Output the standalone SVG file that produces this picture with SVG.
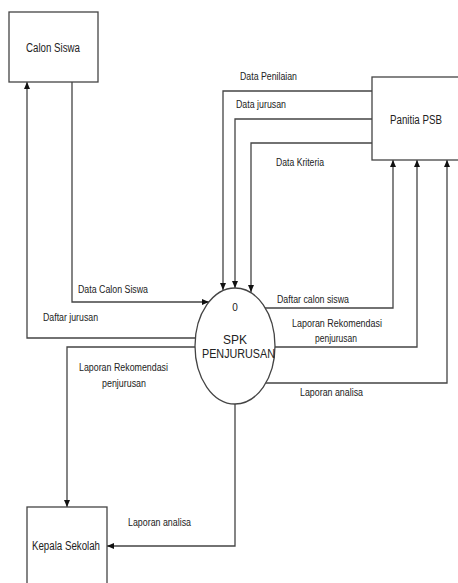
<svg xmlns="http://www.w3.org/2000/svg" width="458" height="583" viewBox="0 0 458 583">
<style>
.box{fill:#fff;stroke:#444;stroke-width:1.3}
.ln{fill:none;stroke:#444;stroke-width:1.3}
text{font-family:"Liberation Sans",Arial,sans-serif;fill:#222}
.lb{font-size:10px}
.nm{font-size:12px}
</style>
<defs>
<marker id="ah" markerUnits="userSpaceOnUse" markerWidth="8" markerHeight="8" refX="7" refY="4" orient="auto">
<path d="M0,1 L7,4 L0,7 Z" fill="#111"/>
</marker>
</defs>
<rect width="458" height="583" fill="#fff"/>
<g id="connectors">
<path class="ln" d="M72,82 V302 H209" marker-end="url(#ah)"/>
<path class="ln" d="M195,338 H27 V82" marker-end="url(#ah)"/>
<path class="ln" d="M372,91 H223 V290" marker-end="url(#ah)"/>
<path class="ln" d="M372,119 H235 V288" marker-end="url(#ah)"/>
<path class="ln" d="M372,143 H251 V292" marker-end="url(#ah)"/>
<path class="ln" d="M265,308 H393 V160" marker-end="url(#ah)"/>
<path class="ln" d="M275,347 H417 V160" marker-end="url(#ah)"/>
<path class="ln" d="M266,383 H447 V160" marker-end="url(#ah)"/>
<path class="ln" d="M195,347 H67 V507" marker-end="url(#ah)"/>
<path class="ln" d="M235,404 V546 H107" marker-end="url(#ah)"/>
<text class="lb" x="78" y="293" textLength="70" lengthAdjust="spacingAndGlyphs">Data Calon Siswa</text>
<text class="lb" x="43" y="321" textLength="55" lengthAdjust="spacingAndGlyphs">Daftar jurusan</text>
<text class="lb" x="240" y="80" textLength="57" lengthAdjust="spacingAndGlyphs">Data Penilaian</text>
<text class="lb" x="236" y="108" textLength="50" lengthAdjust="spacingAndGlyphs">Data jurusan</text>
<text class="lb" x="276" y="166" textLength="48" lengthAdjust="spacingAndGlyphs">Data Kriteria</text>
<text class="lb" x="277" y="303" textLength="72" lengthAdjust="spacingAndGlyphs">Daftar calon siswa</text>
<text class="lb" x="292" y="327" textLength="90" lengthAdjust="spacingAndGlyphs">Laporan Rekomendasi</text>
<text class="lb" x="315" y="342" textLength="42" lengthAdjust="spacingAndGlyphs">penjurusan</text>
<text class="lb" x="300" y="396" textLength="63" lengthAdjust="spacingAndGlyphs">Laporan analisa</text>
<text class="lb" x="79" y="371" textLength="89" lengthAdjust="spacingAndGlyphs">Laporan Rekomendasi</text>
<text class="lb" x="102" y="387" textLength="44" lengthAdjust="spacingAndGlyphs">penjurusan</text>
<text class="lb" x="128" y="526" textLength="63" lengthAdjust="spacingAndGlyphs">Laporan analisa</text>
</g>
<g id="calon-siswa">
<rect class="box" x="9" y="12" width="89" height="70"/>
<text class="nm" x="26" y="52" textLength="54" lengthAdjust="spacingAndGlyphs">Calon Siswa</text>
</g>
<g id="panitia-psb">
<rect class="box" x="372" y="77" width="95" height="83"/>
<text class="nm" x="390" y="124" textLength="52" lengthAdjust="spacingAndGlyphs">Panitia PSB</text>
</g>
<g id="spk-penjurusan">
<ellipse class="box" cx="235" cy="346" rx="40" ry="58"/>
<text class="lb" x="235" y="311" text-anchor="middle">0</text>
<text class="nm" x="235" y="344" text-anchor="middle">SPK</text>
<text class="nm" x="202" y="358" textLength="73" lengthAdjust="spacingAndGlyphs">PENJURUSAN</text>
</g>
<g id="kepala-sekolah">
<rect class="box" x="27" y="507" width="80" height="90"/>
<text class="nm" x="32" y="550" textLength="68" lengthAdjust="spacingAndGlyphs">Kepala Sekolah</text>
</g>
</svg>
